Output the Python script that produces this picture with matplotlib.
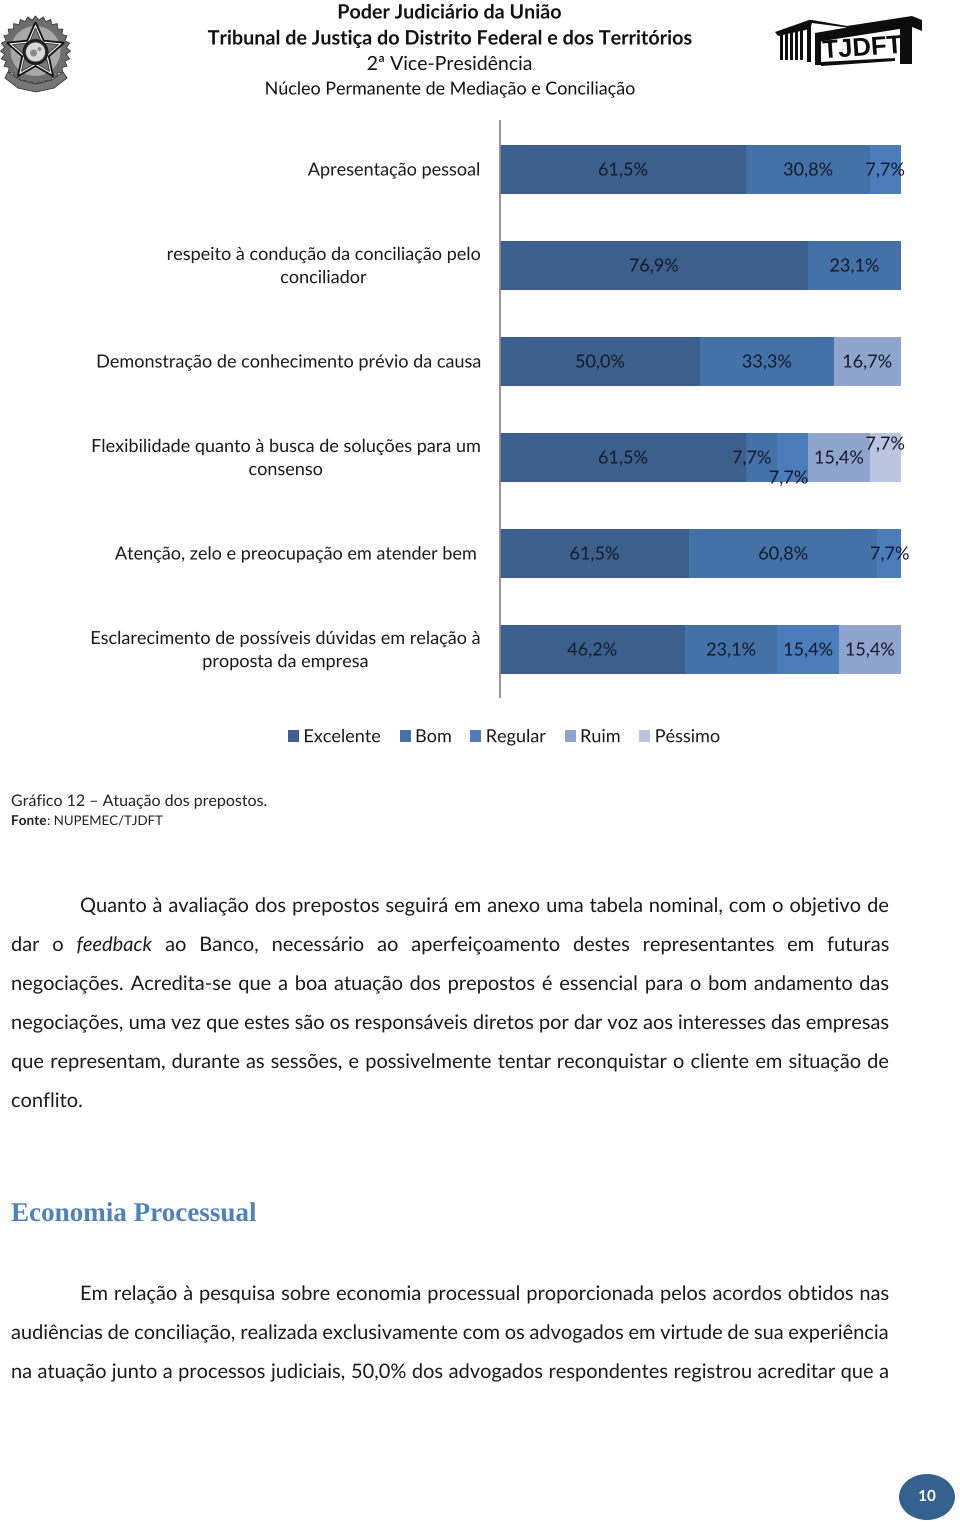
import matplotlib
matplotlib.use("Agg")
import matplotlib.pyplot as plt
import matplotlib.patheffects as pe
import matplotlib.transforms as mtrans
import numpy as np
from matplotlib.patches import Circle, Ellipse, Polygon, Rectangle

W, H = 960, 1522
categories = [
    "Apresentação pessoal",
    "respeito à condução da conciliação pelo\nconciliador",
    "Demonstração de conhecimento prévio da causa",
    "Flexibilidade quanto à busca de soluções para um\nconsenso",
    "Atenção, zelo e preocupação em atender bem\u00a0",
    "Esclarecimento de possíveis dúvidas em relação à\nproposta da empresa",
]
series_names = ["Excelente", "Bom", "Regular", "Ruim", "Péssimo"]
excelente = [61.5, 76.9, 50.0, 61.5, 61.5, 46.2]
bom = [30.8, 23.1, 33.3, 7.7, 60.8, 23.1]
regular = [7.7, 0, 0, 7.7, 7.7, 15.4]
ruim = [0, 0, 16.7, 15.4, 0, 15.4]
pessimo = [0, 0, 0, 7.7, 0, 0]
series_colors = ["#3C5F8E", "#4471A6", "#4A7DBA", "#8FA5CE", "#BAC6E0"]
# nudged data labels: (row, series) -> pixel offset
label_nudges = {(3, 1): (-10, 0), (3, 2): (-4, -20), (3, 4): (0, 14), (4, 2): (1, 0)}

plt.rcParams["font.family"] = ["Lato", "DejaVu Sans"]
plt.rcParams["path.effects"] = [pe.Normal()]  # draw glyphs as paths: steady baselines
fig = plt.figure(figsize=(W / 100, H / 100), dpi=100, facecolor="white")

# page layer in pixel coordinates
page = fig.add_axes([0, 0, 1, 1])
page.set_xlim(0, W)
page.set_ylim(H, 0)
page.axis("off")

# chart
ax = fig.add_axes([499.6 / W, 1 - 697 / H, 401 / W, 576 / H])
ax.patch.set_alpha(0)
values = np.array([excelente, bom, regular, ruim, pessimo], dtype=float)
totals = values.sum(axis=0)
shares = values / totals
y = np.arange(len(categories))
left = np.zeros(len(categories))
for s, name in enumerate(series_names):
    bars = ax.barh(y, shares[s], left=left, height=49 / 96, color=series_colors[s], label=name)
    for r, bar in enumerate(bars):
        if values[s, r] <= 0:
            continue
        dx, dy = label_nudges.get((r, s), (0, 0))
        ax.annotate(f"{values[s, r]:.1f}%".replace(".", ","),
                    (left[r] + shares[s, r] / 2, r), xytext=(dx * 0.72, dy * 0.72),
                    textcoords="offset points", ha="center", va="center_baseline",
                    fontsize=13, color="#141A2A", clip_on=False)
    left += shares[s]
ax.set_xlim(0, 1)
ax.set_ylim(len(categories) - 0.5, -0.5)
ax.set_yticks(y, categories, fontsize=13, color="#1a1a1a", multialignment="center", linespacing=1.55)
ax.set_xticks([])
ax.tick_params(axis="y", length=0, pad=19.6 * 0.72)
for lab, cat in zip(ax.get_yticklabels(), categories):
    if "\n" in cat:
        lab.set_transform(lab.get_transform() + mtrans.Affine2D().translate(0, 3.5))
for side in ("top", "right", "bottom"):
    ax.spines[side].set_visible(False)
ax.spines["left"].set_color("#8A8A8A")
ax.spines["left"].set_linewidth(1.3)

leg = fig.legend(*ax.get_legend_handles_labels(), loc="center", ncol=5,
                 bbox_to_anchor=(504 / W, 1 - 737.2 / H), frameon=False, fontsize=13,
                 handlelength=0.6, handleheight=0.6, handletextpad=0.25, columnspacing=1.05,
                 labelcolor="#1a1a1a")

# header
header = [("Poder Judiciário da União", 12.5, "bold", 14.2),
          ("Tribunal de Justiça do Distrito Federal e dos Territórios", 38.5, "bold", 14.25),
          ("2ª Vice-Presidência", 64.5, "normal", 14),
          ("Núcleo Permanente de Mediação e Conciliação", 89.5, "normal", 12.9)]
for txt, yy, wt, fs in header:
    page.text(450, yy, txt, ha="center", va="center", fontsize=fs, fontweight=wt, color="#111111")

# emblem
cx, cy = 35.5, 52
n_teeth = 56
ring_ang = np.linspace(0, 2 * np.pi, n_teeth, endpoint=False)
ring_r = np.where(np.arange(n_teeth) % 2 == 0, 35, 31)
page.add_patch(Polygon(np.c_[cx + ring_r * np.cos(ring_ang), cy - 1 + ring_r * np.sin(ring_ang)],
                       fc="#6e6e6e", ec="#333333", lw=0.6, zorder=2))
page.add_patch(Circle((cx, cy - 1), 25, fc="#a8a8a8", ec="none", zorder=2))
page.add_patch(Polygon([(8, 72), (20, 80), (36, 84), (52, 80), (63, 72), (67, 78), (54, 88), (36, 92),
                        (18, 88), (5, 78)], fc="#777777", ec="#333333", lw=0.6, zorder=2))
star_angles = np.deg2rad(np.arange(0, 360, 36) - 90)
star_r = np.where(np.arange(10) % 2 == 0, 30, 14)
page.add_patch(Polygon(np.c_[cx + star_r * np.cos(star_angles), cy + star_r * np.sin(star_angles)],
                       fc="#f2f2f2", ec="#111111", lw=1.3, zorder=3))
star_r2 = np.where(np.arange(10) % 2 == 0, 24, 11)
page.add_patch(Polygon(np.c_[cx + star_r2 * np.cos(star_angles), cy + star_r2 * np.sin(star_angles)],
                       fc="#7a7a7a", ec="#333333", lw=0.6, zorder=3))
page.add_patch(Circle((cx, cy), 13, fc="#1e1e1e", ec="none", zorder=4))
page.add_patch(Circle((cx, cy), 10, fc="#d8d8d8", ec="#333333", lw=0.6, zorder=5))
page.add_patch(Circle((cx - 2, cy + 1), 3.5, fc="#8a8a8a", ec="none", zorder=6))
page.add_patch(Circle((cx + 4, cy - 3), 2, fc="#8a8a8a", ec="none", zorder=6))

# TJDFT logo
ink = "#0d0d0d"
page.add_patch(Polygon([(775, 32), (809, 20), (812, 20), (847, 26), (912, 16), (922, 20), (922, 31),
                        (912, 27), (823, 41), (815, 43), (815, 33), (847, 27.5), (812, 23), (810, 29),
                        (778, 36)], fc=ink, zorder=2))
for xx, top in zip([780, 785, 790, 795, 800], [35, 34, 32, 31, 29]):
    page.add_patch(Rectangle((xx, top), 3.4, 60 - top, fc=ink, zorder=2))
page.add_patch(Rectangle((807, 22), 3.5, 40, fc=ink, zorder=2))
page.add_patch(Rectangle((815, 33), 6, 32, fc=ink, zorder=2))
page.add_patch(Rectangle((900, 26), 12, 38, fc=ink, zorder=2))
page.add_patch(Polygon([(821, 62), (895, 58), (895, 61), (821, 66)], fc=ink, zorder=2))
page.text(862.5, 48.5, "TJDFT", ha="center", va="center", fontsize=18.5, fontweight="bold", rotation=4,
          color=ink, family=["Liberation Sans Narrow", "Liberation Sans"], zorder=3)

page.text(11, 802, "Gráfico 12 – Atuação dos prepostos.", ha="left", va="center", fontsize=11.5, color="#222222")
page.text(11, 821, "Fonte", ha="left", va="center", fontsize=9.8, fontweight="bold", color="#222222")
page.text(47, 821, ": NUPEMEC/TJDFT", ha="left", va="center", fontsize=9.55, color="#222222")

# body text, justified word by word
fig.canvas.draw()
rend = fig.canvas.get_renderer()
BODY = 14.4


def justified(words, x0, x1, yy, fs=BODY, italics=()):
    artists = [page.text(0, yy, w, ha="left", va="baseline", fontsize=fs, color="#1a1a1a",
                         fontstyle="italic" if w in italics else "normal") for w in words]
    widths = [a.get_window_extent(rend).width for a in artists]
    gap = (x1 - x0 - sum(widths)) / (len(words) - 1)
    x = x0
    for a, w in zip(artists, widths):
        a.set_x(x)
        x += w + gap


para = [
    ("Quanto à avaliação dos prepostos seguirá em anexo uma tabela nominal, com o objetivo de", 80, 912),
    ("dar o feedback ao Banco, necessário ao aperfeiçoamento destes representantes em futuras", 11, 951),
    ("negociações. Acredita-se que a boa atuação dos prepostos é essencial para o bom andamento das", 11, 990),
    ("negociações, uma vez que estes são os responsáveis diretos por dar voz aos interesses das empresas", 11, 1029),
    ("que representam, durante as sessões, e possivelmente tentar reconquistar o cliente em situação de", 11, 1068),
    ("Em relação à pesquisa sobre economia processual proporcionada pelos acordos obtidos nas", 80, 1300),
    ("audiências de conciliação, realizada exclusivamente com os advogados em virtude de sua experiência", 11, 1339),
    ("na atuação junto a processos judiciais, 50,0% dos advogados respondentes registrou acreditar que a", 11, 1378),
]
for txt, x0, yy in para:
    justified(txt.split(), x0, 889, yy, italics=("feedback",))
page.text(11, 1107, "conflito.", ha="left", va="baseline", fontsize=BODY, color="#1a1a1a")
page.text(11, 1211.5, "Economia Processual", ha="left", va="center_baseline", fontsize=19.5, fontweight="bold",
          color="#4F81BD", family=["Liberation Serif"])

# page number
page.add_patch(Ellipse((927, 1497), 56, 46, fc="#34618F", ec="none"))
page.text(927, 1497, "10", ha="center", va="center", fontsize=11, fontweight="bold", color="white")

fig.savefig("out.png", dpi=100, facecolor="white")
